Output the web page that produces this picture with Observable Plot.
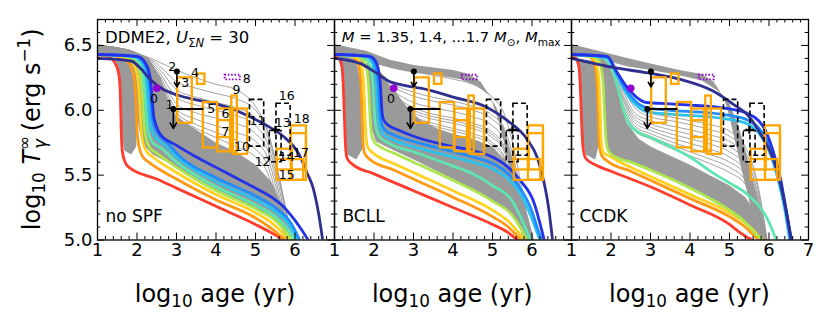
<!DOCTYPE html>
<html><head><meta charset="utf-8">
<script src="https://cdn.jsdelivr.net/npm/d3@7"></script>
<script src="https://cdn.jsdelivr.net/npm/@observablehq/plot@0.6"></script>
<style>body{margin:0;background:#fff;} svg{display:block;}</style>
</head><body><div id="chart"></div>
<script>
// ---------- data ----------
const panels = ["noSPF", "BCLL", "CCDK"];
const panelNames = ["no SPF", "BCLL", "CCDK"];
// colours of the nine model curves (M = 1.35 ... 1.7, Mmax)
const curveColors = ["#ff3d2e", "#ff9a14", "#ffd21f", "#aee650", "#5fe6b0", "#2cc2ee", "#1f8cff", "#2233e8", "#2f2f90"];

const curvesNoSPF = [
  [[1.0,6.425],[1.3,6.41],[1.45,6.36],[1.54,6.28],[1.58,6.1],[1.6,5.85],[1.63,5.68],[1.7,5.6],[1.8,5.56],[2.5,5.47],[3.0,5.40],[4.0,5.26],[5.0,5.12],[5.38,5.06],[5.55,5.03],[5.68,5.0]],
  [[1.0,6.43],[1.5,6.415],[1.75,6.38],[1.9,6.29],[1.97,6.1],[2.0,5.85],[2.05,5.72],[2.15,5.64],[2.3,5.6],[3.0,5.47],[4.0,5.31],[5.0,5.17],[5.4,5.09],[5.6,5.04],[5.76,5.0]],
  [[1.0,6.43],[1.6,6.415],[1.85,6.38],[2.0,6.28],[2.06,6.1],[2.1,5.87],[2.15,5.75],[2.25,5.68],[2.4,5.64],[3.0,5.52],[4.0,5.35],[5.0,5.21],[5.5,5.11],[5.7,5.05],[5.84,5.0]],
  [[1.0,6.43],[1.7,6.415],[1.95,6.38],[2.08,6.28],[2.14,6.1],[2.18,5.89],[2.23,5.78],[2.33,5.71],[2.5,5.67],[3.0,5.56],[4.0,5.38],[5.0,5.24],[5.5,5.15],[5.75,5.07],[5.92,5.0]],
  [[1.0,6.43],[1.8,6.415],[2.02,6.38],[2.15,6.28],[2.21,6.1],[2.25,5.91],[2.3,5.81],[2.4,5.75],[2.6,5.71],[3.0,5.60],[4.0,5.41],[5.0,5.27],[5.5,5.18],[5.8,5.09],[6.0,5.0]],
  [[1.0,6.43],[1.9,6.415],[2.1,6.38],[2.22,6.28],[2.28,6.1],[2.32,5.93],[2.38,5.84],[2.5,5.78],[2.7,5.73],[3.0,5.64],[4.0,5.45],[5.0,5.31],[5.5,5.22],[5.85,5.12],[6.06,5.0]],
  [[1.0,6.43],[1.95,6.415],[2.15,6.38],[2.28,6.28],[2.34,6.1],[2.38,5.95],[2.44,5.87],[2.55,5.81],[2.8,5.74],[3.0,5.67],[4.0,5.48],[5.0,5.34],[5.5,5.25],[5.9,5.13],[6.12,5.0]],
  [[1.0,6.43],[2.0,6.415],[2.2,6.37],[2.33,6.26],[2.38,6.1],[2.42,5.96],[2.5,5.87],[2.6,5.81],[3.0,5.73],[3.5,5.64],[4.0,5.56],[4.5,5.48],[5.0,5.40],[5.5,5.31],[5.7,5.26],[5.95,5.17],[6.12,5.10],[6.25,5.04],[6.33,5.0]],
  [[1.0,6.40],[1.85,6.38],[2.1,6.32],[2.33,6.24],[2.67,6.16],[3.0,6.12],[3.5,6.08],[4.0,6.05],[4.5,6.00],[4.86,5.95],[5.3,5.88],[5.7,5.80],[6.12,5.65],[6.3,5.52],[6.46,5.40],[6.6,5.2],[6.7,5.0]]
];
const curvesBCLL = [
  [[1.0,6.42],[1.1,6.405],[1.18,6.35],[1.22,6.2],[1.25,5.95],[1.28,5.72],[1.32,5.63],[1.45,5.585],[2.0,5.51],[3.0,5.38],[4.0,5.25],[5.0,5.12],[5.38,5.06],[5.55,5.02],[5.66,5.0]],
  [[1.0,6.43],[1.45,6.415],[1.6,6.36],[1.67,6.2],[1.7,5.95],[1.72,5.76],[1.76,5.67],[1.9,5.62],[2.5,5.54],[3.0,5.47],[4.0,5.33],[5.0,5.18],[5.4,5.1],[5.6,5.04],[5.73,5.0]],
  [[1.0,6.43],[1.5,6.415],[1.66,6.36],[1.74,6.2],[1.77,5.95],[1.8,5.79],[1.85,5.71],[2.0,5.665],[2.5,5.59],[3.0,5.52],[4.0,5.38],[5.0,5.23],[5.45,5.13],[5.65,5.06],[5.8,5.0]],
  [[1.0,6.43],[1.6,6.415],[1.78,6.36],[1.86,6.2],[1.9,5.95],[1.93,5.83],[2.0,5.76],[2.2,5.71],[2.5,5.67],[3.0,5.60],[4.0,5.46],[5.0,5.30],[5.5,5.19],[5.7,5.1],[5.87,5.0]],
  [[1.0,6.43],[1.7,6.415],[1.88,6.36],[1.97,6.2],[2.01,5.98],[2.05,5.87],[2.13,5.8],[2.35,5.75],[3.0,5.68],[4.0,5.57],[4.5,5.51],[5.0,5.42],[5.5,5.30],[5.72,5.17],[5.85,5.08],[5.95,5.0]],
  [[1.0,6.43],[1.8,6.415],[1.97,6.36],[2.06,6.2],[2.1,6.0],[2.14,5.88],[2.22,5.82],[2.5,5.77],[3.0,5.72],[4.0,5.64],[4.5,5.60],[5.0,5.55],[5.4,5.47],[5.7,5.36],[5.95,5.2],[6.1,5.08],[6.2,5.0]],
  [[1.0,6.43],[1.85,6.415],[2.02,6.36],[2.11,6.2],[2.15,6.0],[2.19,5.9],[2.27,5.85],[2.5,5.81],[3.0,5.76],[4.0,5.68],[4.5,5.64],[5.0,5.59],[5.4,5.51],[5.7,5.40],[6.0,5.22],[6.15,5.08],[6.25,5.0]],
  [[1.0,6.43],[1.9,6.415],[2.07,6.36],[2.16,6.2],[2.2,6.0],[2.24,5.93],[2.34,5.89],[2.6,5.85],[3.0,5.80],[4.0,5.72],[4.5,5.69],[5.0,5.64],[5.4,5.56],[5.7,5.46],[6.06,5.28],[6.2,5.13],[6.31,5.0]],
  [[1.0,6.40],[1.66,6.36],[2.0,6.30],[2.34,6.23],[2.8,6.19],[3.18,6.17],[4.03,6.10],[4.88,6.02],[5.38,5.92],[5.89,5.77],[6.14,5.63],[6.3,5.45],[6.42,5.25],[6.52,5.0]]
];
const curvesCCDK = [
  [[1.0,6.42],[1.1,6.405],[1.18,6.35],[1.22,6.2],[1.25,5.95],[1.29,5.72],[1.36,5.63],[1.6,5.58],[2.0,5.53],[3.0,5.41],[4.0,5.27],[5.0,5.12],[5.25,5.06],[5.45,5.02],[5.59,5.0]],
  [[1.0,6.43],[1.45,6.415],[1.58,6.36],[1.65,6.2],[1.68,5.95],[1.7,5.75],[1.76,5.655],[1.9,5.61],[2.5,5.53],[3.0,5.46],[4.0,5.32],[5.0,5.18],[5.4,5.1],[5.6,5.04],[5.75,5.0]],
  [[1.0,6.43],[1.5,6.415],[1.63,6.36],[1.7,6.2],[1.73,5.95],[1.75,5.77],[1.8,5.68],[2.0,5.64],[2.5,5.56],[3.0,5.49],[4.0,5.35],[5.0,5.21],[5.45,5.12],[5.65,5.06],[5.8,5.0]],
  [[1.0,6.43],[1.55,6.415],[1.72,6.36],[1.8,6.2],[1.84,5.95],[1.87,5.78],[1.93,5.69],[2.05,5.65],[2.5,5.6],[3.0,5.54],[4.0,5.40],[5.0,5.23],[5.42,5.13],[5.65,5.05],[5.84,5.0]],
  [[1.0,6.43],[1.8,6.405],[2.0,6.33],[2.15,6.2],[2.3,6.02],[2.45,5.9],[2.7,5.83],[3.0,5.79],[3.5,5.72],[4.0,5.64],[4.57,5.52],[5.0,5.44],[5.42,5.36],[5.75,5.26],[5.93,5.18],[6.08,5.08],[6.18,5.0]],
  [[1.0,6.43],[1.9,6.405],[2.14,6.28],[2.35,6.15],[2.6,6.05],[2.9,5.99],[3.5,5.97],[4.0,5.96],[4.5,5.95],[5.0,5.93],[5.42,5.90],[5.8,5.80],[6.05,5.65],[6.26,5.43],[6.42,5.2],[6.52,5.0]],
  [[1.0,6.43],[1.9,6.41],[2.14,6.29],[2.38,6.16],[2.62,6.07],[2.9,6.02],[3.5,6.0],[4.0,5.99],[4.5,5.98],[5.0,5.96],[5.42,5.93],[5.8,5.84],[6.07,5.68],[6.28,5.45],[6.45,5.2],[6.55,5.0]],
  [[1.0,6.43],[1.9,6.415],[2.14,6.30],[2.4,6.18],[2.65,6.10],[2.9,6.06],[3.5,6.05],[4.0,6.04],[4.5,6.03],[5.0,6.01],[5.42,5.98],[5.84,5.88],[6.09,5.70],[6.3,5.46],[6.45,5.2],[6.56,5.0]],
  [[1.0,6.40],[2.05,6.33],[2.89,6.29],[3.73,6.24],[4.57,6.15],[5.08,6.05],[5.5,5.95],[5.84,5.79],[6.09,5.64],[6.3,5.42],[6.45,5.2],[6.57,5.0]]
];

// dense grey bundles of the other cooling curves (outlines)
const greyNoSPF = [
  [[1.0,6.51],[1.8,6.47],[2.3,6.40],[2.6,6.25],[2.8,6.05],[3.0,5.95],[3.5,5.85],[4.0,5.75],[4.5,5.68],[5.0,5.58],[5.4,5.45],[5.7,5.25],[5.85,5.1],[5.93,5.0],[5.92,5.0],[5.5,5.15],[5.0,5.24],[4.0,5.39],[3.0,5.56],[2.4,5.66],[2.2,5.72],[2.05,5.85],[1.97,6.05],[1.9,6.25],[1.75,6.37],[1.5,6.41],[1.0,6.42]],
  [[1.45,6.40],[1.55,6.28],[1.59,6.05],[1.62,5.8],[1.68,5.69],[1.85,5.66],[1.98,5.72],[2.0,5.9],[1.97,6.15],[1.88,6.33],[1.7,6.39]]
];
const greyBCLL = [
  [[1.0,6.51],[1.8,6.46],[2.4,6.39],[3.0,6.35],[3.5,6.33],[4.0,6.31],[4.4,6.28],[4.7,6.22],[4.95,6.10],[5.15,5.92],[5.35,5.68],[5.55,5.42],[5.75,5.18],[5.9,5.0],[6.05,5.0],[5.9,5.18],[5.7,5.40],[5.5,5.62],[5.3,5.85],[5.1,6.02],[4.9,6.12],[4.6,6.19],[4.2,6.24],[3.6,6.27],[3.0,6.29],[2.5,6.32],[2.0,6.36],[1.5,6.41],[1.0,6.43]],
  [[1.0,6.43],[1.7,6.39],[2.0,6.32],[2.3,6.23],[2.6,6.12],[2.9,6.0],[3.2,5.92],[3.6,5.86],[4.0,5.82],[4.5,5.78],[5.0,5.72],[5.3,5.62],[5.5,5.5],[5.7,5.3],[5.85,5.1],[5.95,5.0],[5.87,5.0],[5.5,5.2],[5.0,5.3],[4.0,5.47],[3.0,5.62],[2.3,5.72],[2.05,5.76],[1.95,5.85],[1.9,6.05],[1.82,6.3],[1.6,6.4],[1.0,6.42]],
  [[1.15,6.40],[1.21,6.28],[1.24,6.05],[1.27,5.78],[1.33,5.66],[1.55,5.62],[1.7,5.7],[1.71,5.95],[1.67,6.2],[1.55,6.38]]
];
const greyCCDK = [
  [[1.0,6.51],[1.8,6.45],[2.46,6.40],[3.0,6.36],[3.73,6.31],[4.3,6.28],[4.6,6.22],[4.85,6.10],[5.0,5.95],[5.15,5.75],[5.3,5.55],[5.5,5.3],[5.65,5.1],[5.75,5.0],[5.95,5.0],[5.8,5.2],[5.6,5.45],[5.4,5.7],[5.2,5.9],[5.0,6.05],[4.7,6.15],[4.3,6.23],[3.73,6.27],[3.0,6.31],[2.4,6.34],[1.8,6.39],[1.0,6.43]],
  [[1.0,6.43],[1.8,6.41],[2.0,6.3],[2.2,6.1],[2.4,5.9],[2.7,5.78],[3.0,5.72],[3.5,5.65],[4.0,5.58],[4.5,5.50],[5.0,5.42],[5.4,5.33],[5.7,5.2],[5.85,5.1],[5.95,5.0],[5.84,5.0],[5.42,5.12],[5.0,5.22],[4.0,5.40],[3.0,5.54],[2.05,5.65],[1.93,5.69],[1.87,5.8],[1.84,6.0],[1.8,6.2],[1.72,6.36],[1.55,6.41],[1.0,6.42]],
  [[1.15,6.40],[1.21,6.28],[1.24,6.05],[1.28,5.78],[1.36,5.66],[1.6,5.62],[1.68,5.72],[1.69,5.95],[1.66,6.2],[1.56,6.38]]
];

// individual thin grey curves fanning out of the bundle
const fanAgesA = [1, 2, 2.5, 3, 3.5, 4, 4.5, 5, 5.3, 5.6, 5.8, 6.0];
const fansNoSPF = [
  [6.50,6.44,6.38,6.31,6.25,6.20,6.16,6.03,5.85,5.48,5.20,4.95],
  [6.50,6.44,6.36,6.22,6.17,6.13,6.09,6.00,5.84,5.48,5.18,4.92],
  [6.50,6.44,6.34,6.16,6.10,6.06,6.02,5.94,5.80,5.45,5.15,4.90],
  [6.50,6.44,6.32,6.10,6.04,6.00,5.96,5.88,5.75,5.40,5.10,4.90],
  [6.50,6.44,6.30,6.05,5.98,5.94,5.90,5.82,5.70,5.35,5.05,4.90],
  [6.50,6.44,6.28,6.01,5.93,5.88,5.83,5.76,5.64,5.30,5.00,4.90],
  [6.50,6.44,6.26,5.98,5.89,5.83,5.77,5.70,5.58,5.25,4.98,4.90],
  [6.50,6.44,6.24,5.96,5.86,5.79,5.72,5.64,5.52,5.20,4.95,4.90]
];
const fansBCLL = [
  [6.46,6.39,6.34,6.30,6.27,6.24,6.20,6.10,5.97,5.62,5.30,4.95],
  [6.42,6.33,6.20,6.14,6.10,6.07,6.03,5.96,5.86,5.55,5.25,4.92],
  [6.42,6.33,6.18,6.11,6.07,6.04,6.00,5.93,5.82,5.50,5.20,4.90],
  [6.42,6.33,6.15,6.06,6.02,5.99,5.95,5.88,5.77,5.45,5.15,4.90],
  [6.42,6.32,6.12,6.02,5.97,5.94,5.90,5.83,5.72,5.40,5.10,4.90],
  [6.42,6.32,6.10,6.00,5.95,5.92,5.88,5.81,5.70,5.38,5.08,4.90],
  [6.42,6.32,6.09,5.98,5.93,5.90,5.86,5.79,5.68,5.35,5.05,4.90],
  [6.42,6.31,6.06,5.95,5.90,5.86,5.82,5.75,5.64,5.30,5.00,4.90],
  [6.42,6.31,6.04,5.93,5.88,5.84,5.80,5.73,5.62,5.28,4.98,4.90]
];
const fanAgesB = [1, 1.8, 2.0, 2.3, 2.6, 3.0, 3.5, 4.0, 4.5, 5.0, 5.4, 5.7, 6.0];
const fansCCDK = [
  [6.44,6.41,6.36,6.20,6.05,5.98,5.95,5.92,5.89,5.84,5.72,5.45,4.90],
  [6.44,6.41,6.35,6.18,6.02,5.95,5.92,5.89,5.85,5.80,5.68,5.42,4.90],
  [6.44,6.41,6.34,6.15,5.98,5.92,5.88,5.85,5.81,5.76,5.64,5.38,4.90],
  [6.44,6.41,6.335,6.12,5.955,5.895,5.85,5.815,5.775,5.72,5.60,5.35,4.90],
  [6.44,6.41,6.33,6.10,5.93,5.87,5.82,5.78,5.74,5.68,5.57,5.32,4.90],
  [6.44,6.40,6.32,6.08,5.905,5.845,5.79,5.745,5.70,5.64,5.53,5.29,4.90],
  [6.44,6.40,6.31,6.05,5.88,5.82,5.76,5.71,5.66,5.60,5.50,5.26,4.90],
  [6.44,6.40,6.30,6.02,5.86,5.80,5.735,5.68,5.625,5.56,5.46,5.23,4.90],
  [6.44,6.40,6.29,6.00,5.84,5.78,5.71,5.65,5.59,5.52,5.43,5.20,4.90]
];

// observations (same in every panel)
const obsBoxes = [ // [id, ageMin, ageMax, Tmin, Tmax]
  [3,3.03,3.40,5.90,6.25],[4,3.53,3.72,6.20,6.28],[5,3.68,4.04,5.71,6.06],
  [6,4.05,4.37,5.79,6.01],[7,4.05,4.37,5.68,5.92],[9,4.40,4.54,5.68,6.11],
  [10,4.44,4.80,5.66,6.01],[14,5.55,5.93,5.54,5.70],[15,5.55,6.22,5.46,5.62],
  [17,5.91,6.29,5.46,5.82],[18,5.91,6.29,5.54,5.88]
];
const obsDashed = [[11,4.86,5.22,5.72,6.08],[16,5.53,5.89,5.65,6.05],[12,5.36,5.66,5.60,5.84]];
const obsDotted = [[8,4.23,4.62,6.235,6.27]];
const obsUpper = [[2,3.01,6.30,6.18],[1,2.92,6.01,5.86]]; // [id, age, T, arrow end]
const obsAgeBar = [[1,2.92,3.68,6.01]];
const obsCross = [[13,5.40,5.62,5.50,5.82,5.88,5.85]];
const obsPurple = [[0,2.50,6.17]];
const obsLabels = [
  ["0",2.43,6.085],["1",2.82,6.04],["2",2.89,6.335],["3",3.22,6.21],["4",3.47,6.29],
  ["5",3.88,6.01],["6",4.24,5.975],["7",4.24,5.835],["8",4.78,6.245],["9",4.52,6.16],
  ["10",4.66,5.72],["11",5.05,5.92],["12",5.18,5.60],["13",5.69,5.905],["14",5.79,5.64],
  ["15",5.79,5.50],["16",5.79,6.11],["17",6.15,5.67],["18",6.17,5.935]
];

// axes
const xMajor = [1, 2, 3, 4, 5, 6, 7];
const yMajor = [5.0, 5.5, 6.0, 6.5];
const xTickText = {noSPF: ["1","2","3","4","5","6"], BCLL: ["1","2","3","4","5","6"], CCDK: ["1","2","3","4","5","6","7"]};
const yTickText = ["5.0", "5.5", "6.0", "6.5"];

// ---------- layout ----------
const W = 830, H = 323, ML = 96.5, MR = 22, MT = 19, MB = 83.5;
const FW = (W - ML - MR) / 3, FH = H - MT - MB;
const FONT = "DejaVu Sans";

// ---------- tidy rows ----------
const allCurves = {noSPF: curvesNoSPF, BCLL: curvesBCLL, CCDK: curvesCCDK};
const allGrey = {noSPF: greyNoSPF, BCLL: greyBCLL, CCDK: greyCCDK};
const allFans = {noSPF: [fanAgesA, fansNoSPF], BCLL: [fanAgesA, fansBCLL], CCDK: [fanAgesB, fansCCDK]};

const curveRows = [], greyRows = [], fanRows = [];
for (const p of panels) {
  allCurves[p].forEach((pts, i) => pts.forEach(([x, y]) => curveRows.push({panel: p, key: p + i, color: curveColors[i], x, y})));
  allGrey[p].forEach((pts, i) => pts.forEach(([x, y]) => greyRows.push({panel: p, key: p + "g" + i, x, y})));
  const [ages, fans] = allFans[p];
  fans.forEach((ys, i) => ys.forEach((y, j) => fanRows.push({panel: p, key: p + "f" + i, x: ages[j], y})));
}
const boxRows = obsBoxes.map(([id, x1, x2, y1, y2]) => ({id, x1, x2, y1, y2}));
const dashRows = obsDashed.map(([id, x1, x2, y1, y2]) => ({id, x1, x2, y1, y2}));
const dotRows = obsDotted.map(([id, x1, x2, y1, y2]) => ({id, x1, x2, y1, y2}));
const upperRows = obsUpper.map(([id, x, y, y2]) => ({id, x, y, y2}));
const barRows = obsAgeBar.map(([id, x1, x2, y]) => ({id, x1, x2, y}));
const crossH = obsCross.map(([id, x1, x2, x, y1, y2, y]) => ({x1, x2, y1: y, y2: y}));
const crossV = obsCross.map(([id, x1, x2, x, y1, y2, y]) => ({x1: x, x2: x, y1, y2}));
const purpleRows = obsPurple.map(([id, x, y]) => ({id, x, y}));
const labelRows = [
  ...obsLabels.map(([t, x, y]) => ({panel: "noSPF", t, x, y})),
  ...obsLabels.filter(d => d[0] === "0").map(([t, x, y]) => ({panel: "BCLL", t, x, y}))
];
const xLabelRows = panels.flatMap(p => xTickText[p].map(t => ({panel: p, v: +t, t})));
const yLabelRows = yTickText.map(t => ({panel: "noSPF", v: +t, t}));
const nameRows = panels.map((p, i) => ({panel: p, t: panelNames[i]}));
const xMinor = d3.range(1, 7.001, 0.2).filter(v => Math.abs(v - Math.round(v)) > 1e-6);
const yMinor = d3.range(5.0, 6.701, 0.1).filter(v => !yMajor.some(m => Math.abs(m - v) < 1e-6));

const tickStyle = {stroke: "black", strokeWidth: 1};
const plot = Plot.plot({
  width: W, height: H,
  marginLeft: ML, marginRight: MR, marginTop: MT, marginBottom: MB,
  x: {domain: [1, 7], axis: null},
  y: {domain: [5.0, 6.7], axis: null},
  fx: {domain: panels, axis: null, padding: 0},
  color: {type: "identity"},
  style: {fontFamily: FONT, background: "white", color: "black"},
  marks: [
    Plot.line(greyRows, {x: "x", y: "y", z: "key", fx: "panel", fill: "#9a9a9a", stroke: "none", curve: "linear"}),
    Plot.line(fanRows, {x: "x", y: "y", z: "key", fx: "panel", stroke: "#999999", strokeWidth: 0.9, curve: "monotone-x", clip: true}),
    Plot.line(curveRows, {x: "x", y: "y", z: "key", fx: "panel", stroke: "color", strokeWidth: 2.8, curve: "monotone-x", clip: true}),
    Plot.rect(boxRows, {x1: "x1", x2: "x2", y1: "y1", y2: "y2", fill: "none", stroke: "#ffa500", strokeWidth: 2.3}),
    Plot.rect(dashRows, {x1: "x1", x2: "x2", y1: "y1", y2: "y2", fill: "none", stroke: "black", strokeWidth: 1.6, strokeDasharray: "5,3"}),
    Plot.rect(dotRows, {x1: "x1", x2: "x2", y1: "y1", y2: "y2", fill: "none", stroke: "#9400d3", strokeWidth: 1.8, strokeDasharray: "1.5,1.8"}),
    Plot.link(barRows, {x1: "x1", x2: "x2", y1: "y", y2: "y", stroke: "black", strokeWidth: 2}),
    Plot.link(crossH, {x1: "x1", x2: "x2", y1: "y1", y2: "y2", stroke: "black", strokeWidth: 2}),
    Plot.link(crossV, {x1: "x1", x2: "x2", y1: "y1", y2: "y2", stroke: "black", strokeWidth: 2}),
    Plot.arrow(upperRows, {x1: "x", x2: "x", y1: "y", y2: "y2", stroke: "black", strokeWidth: 1.6, headLength: 6}),
    Plot.dot(upperRows, {x: "x", y: "y", r: 3, fill: "black"}),
    Plot.dot(purpleRows, {x: "x", y: "y", r: 3.8, fill: "#9400d3"}),
    Plot.text(labelRows, {x: "x", y: "y", text: "t", fx: "panel", fontSize: 12.5, fill: "black"}),
    // ticks (inward, on all sides)
    Plot.ruleX(xMajor, {x: d => d, insetTop: FH - 7, ...tickStyle}),
    Plot.ruleX(xMajor, {x: d => d, insetBottom: FH - 7, ...tickStyle}),
    Plot.ruleX(xMinor, {x: d => d, insetTop: FH - 3.5, ...tickStyle}),
    Plot.ruleX(xMinor, {x: d => d, insetBottom: FH - 3.5, ...tickStyle}),
    Plot.ruleY(yMajor, {y: d => d, insetRight: FW - 7, ...tickStyle}),
    Plot.ruleY(yMajor, {y: d => d, insetLeft: FW - 7, ...tickStyle}),
    Plot.ruleY(yMinor, {y: d => d, insetRight: FW - 3.5, ...tickStyle}),
    Plot.ruleY(yMinor, {y: d => d, insetLeft: FW - 3.5, ...tickStyle}),
    Plot.frame({stroke: "black", strokeWidth: 1.3}),
    Plot.text(xLabelRows, {x: "v", text: "t", fx: "panel", frameAnchor: "bottom", dy: 16, fontSize: 18, fill: "black"}),
    Plot.text(yLabelRows, {y: "v", text: "t", fx: "panel", frameAnchor: "left", dx: -5, textAnchor: "end", fontSize: 18, fill: "black"}),
    Plot.text(nameRows, {text: "t", fx: "panel", frameAnchor: "bottom-left", dx: 8, dy: -18, textAnchor: "start", fontSize: 17, fill: "black"})
  ]
});
document.getElementById("chart").appendChild(plot);

// ---------- formatted titles ----------
const svg = d3.select(plot);
const g = svg.append("g").attr("font-family", FONT).attr("fill", "black").attr("text-anchor", "start");
function xTitle(cx) {
  const t = g.append("text").attr("x", cx).attr("y", 302).attr("text-anchor", "middle").attr("font-size", 24);
  t.append("tspan").text("log");
  t.append("tspan").attr("font-size", 16.8).attr("dy", 5).text("10");
  t.append("tspan").attr("dy", -5).text(" age (yr)");
}
panels.forEach((p, i) => xTitle(ML + FW * (i + 0.5)));

const yt = g.append("text").attr("transform", `translate(40,${MT + FH / 2}) rotate(-90)`).attr("text-anchor", "middle").attr("font-size", 24);
yt.append("tspan").text("log");
yt.append("tspan").attr("font-size", 16.8).attr("dy", 5).text("10");
yt.append("tspan").attr("dy", -5).text(" ");
yt.append("tspan").attr("font-style", "italic").text("T");
yt.append("tspan").attr("font-size", 16.8).attr("dy", -10).text("∞");
yt.append("tspan").attr("font-size", 16.8).attr("dx", -13).attr("dy", 16).attr("font-style", "italic").text("γ");
yt.append("tspan").attr("dy", -6).text(" (erg s");
yt.append("tspan").attr("font-size", 16.8).attr("dy", -10).text("−1");
yt.append("tspan").attr("dy", 10).text(")");

const t1 = g.append("text").attr("x", ML + 8.5).attr("y", 42.5).attr("font-size", 16.5).attr("text-anchor", "start");
t1.append("tspan").text("DDME2, ");
t1.append("tspan").attr("font-style", "italic").text("U");
t1.append("tspan").attr("font-size", 11.5).attr("dy", 4).text("Σ");
t1.append("tspan").attr("font-size", 11.5).attr("font-style", "italic").text("N");
t1.append("tspan").attr("dy", -4).text(" = 30");

const t2 = g.append("text").attr("x", ML + FW + 8).attr("y", 42).attr("font-size", 14.8).attr("text-anchor", "start");
t2.append("tspan").attr("font-style", "italic").text("M");
t2.append("tspan").text(" = 1.35, 1.4, ...1.7 ");
t2.append("tspan").attr("font-style", "italic").text("M");
t2.append("tspan").attr("font-size", 10.5).attr("dy", 4).text("⊙");
t2.append("tspan").attr("dy", -4).text(", ");
t2.append("tspan").attr("font-style", "italic").text("M");
t2.append("tspan").attr("font-size", 10.5).attr("dy", 4).text("max");
</script>
</body></html>
